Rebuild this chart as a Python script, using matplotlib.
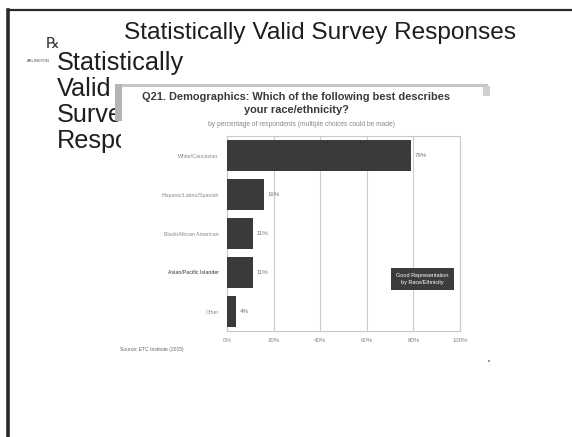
import matplotlib
matplotlib.use("Agg")
import matplotlib.pyplot as plt
from matplotlib.patches import Rectangle
from matplotlib.lines import Line2D

plt.rcParams['font.family'] = ['Liberation Sans', 'DejaVu Sans']

# Survey data
categories = ["White/Caucasian", "Hispanic/Latino/Spanish", "Black/African American",
              "Asian/Pacific Islander", "Other"]
shares = [79, 16, 11, 11, 4]
tick_values = [0, 20, 40, 60, 80, 100]
tick_labels = ["0%", "20%", "40%", "60%", "80%", "100%"]

W, H = 572, 437
fig = plt.figure(figsize=(W / 100, H / 100), dpi=100)
fig.patch.set_facecolor("white")


def fx(px):
    return px / W


def fy(py):
    return 1 - py / H


# Slide frame: top rule and heavy left rule
fig.add_artist(Line2D([fx(8), fx(572)], [fy(10), fy(10)], color="#2a2a2a", lw=1.6))
fig.add_artist(Line2D([fx(8), fx(8)], [fy(10), fy(437)], color="#2a2a2a", lw=2.6))

# Slide title
fig.text(fx(320), fy(33), "Statistically Valid Survey Responses", ha="center", va="center",
         fontsize=17.6, color="#1e1e1e")

# Logo mark
fig.text(fx(53), fy(43), "\u211e", ha="center", va="center", fontsize=11, color="#333333",
         family=['DejaVu Sans'])
fig.text(fx(38), fy(61), "ARLINGTON", ha="center", va="center", fontsize=2.8, color="#444444")

# Bullet text (partly hidden by the chart picture)
for txt, y in [("Statistically", 63), ("Valid", 89), ("Survey", 115), ("Responses", 141)]:
    fig.text(fx(57), fy(y), txt, ha="left", va="center", fontsize=18.2, color="#1e1e1e",
             zorder=1)

# Chart picture background
pic = fig.add_axes([fx(121), fy(362), fx(490) - fx(121), fy(84) - fy(362)], zorder=2)
pic.set_xlim(0, 1)
pic.set_ylim(0, 1)
pic.axis("off")
pic.add_patch(Rectangle((0, 0), 1, 1, transform=pic.transAxes, facecolor="white",
                        edgecolor="none"))
# grey window border along the top and left edge of the picture
fig.add_artist(Rectangle((fx(118), fy(87)), fx(488) - fx(118), fy(84) - fy(87),
                         facecolor="#c6c6c6", edgecolor="none", zorder=3))
fig.add_artist(Rectangle((fx(115), fy(121)), fx(122) - fx(115), fy(84) - fy(121),
                         facecolor="#b4b4b4", edgecolor="none", zorder=3))
fig.add_artist(Rectangle((fx(483), fy(96)), fx(490) - fx(483), fy(86) - fy(96),
                         facecolor="#cfcfcf", edgecolor="none", zorder=3))

# Chart headings
fig.text(fx(296), fy(97), "Q21. Demographics: Which of the following best describes",
         ha="center", va="center", fontsize=7.9, weight="bold", color="#3a3a3a", zorder=4)
fig.text(fx(296), fy(110), "your race/ethnicity?", ha="center", va="center",
         fontsize=7.9, weight="bold", color="#3a3a3a", zorder=4)
fig.text(fx(301), fy(124), "by percentage of respondents (multiple choices could be made)",
         ha="center", va="center", fontsize=4.8, color="#888888", zorder=4)

# Bar chart
ax = fig.add_axes([fx(227), fy(331), fx(460) - fx(227), fy(136) - fy(331)], zorder=4)
ax.set_facecolor("white")
ypos = list(range(len(categories)))
ax.barh(ypos, shares, height=0.82, color="#3a3a3a", zorder=3)
ax.set_xlim(0, 100)
ax.set_ylim(len(categories) - 0.5, -0.5)
ax.set_xticks(tick_values)
ax.set_xticklabels(tick_labels, fontsize=4.4, color="#888888")
ax.set_yticks(ypos)
ax.set_yticklabels(categories, fontsize=3.8, color="#888888")
ax.get_yticklabels()[3].set_color("#333333")
ax.tick_params(length=0, pad=6)
ax.tick_params(axis="x", pad=5)
ax.grid(axis="x", color="#cccccc", lw=0.8, zorder=0)
for s in ax.spines.values():
    s.set_color("#c8c8c8")
    s.set_linewidth(0.8)
for y, v in zip(ypos, shares):
    ax.text(v + 1.5, y, f"{v}%", va="center", ha="left", fontsize=4.4, color="#777777",
            zorder=4)

# Callout box
ax.text(0.84, 0.265, "Good Representation\nby Race/Ethnicity", transform=ax.transAxes,
        ha="center", va="center", fontsize=4.0, color="white", linespacing=1.5, zorder=6,
        bbox=dict(boxstyle="square,pad=0.9", facecolor="#3c3c3c", edgecolor="none"))

# Source line
fig.text(fx(120), fy(349), "Source: ETC Institute (2015)", ha="left", va="center",
         fontsize=3.6, color="#666666", zorder=4)

# small speck on the slide
fig.add_artist(Rectangle((fx(488), fy(362)), fx(2), fy(360) - fy(362), facecolor="#999999",
                         edgecolor="none", zorder=4))

fig.savefig("out.png", dpi=100, facecolor="white")
